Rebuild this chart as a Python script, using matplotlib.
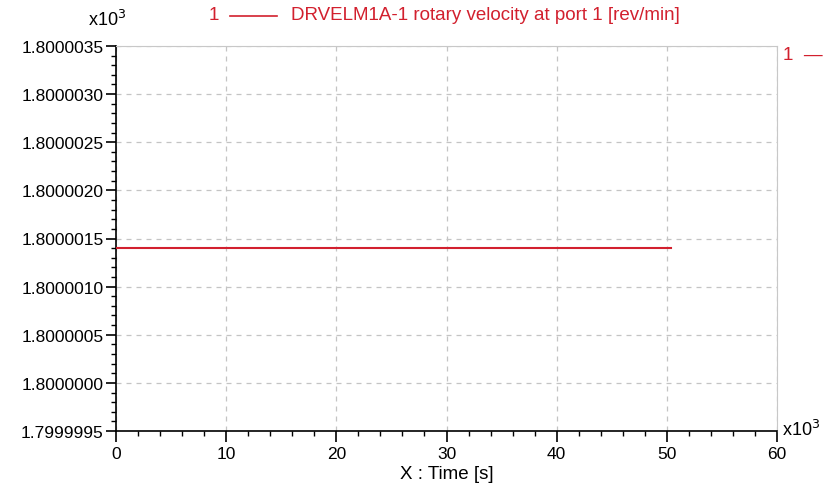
import matplotlib
matplotlib.use('Agg')
import matplotlib.pyplot as plt
import matplotlib.ticker as ticker
from matplotlib.lines import Line2D

plt.rcParams['font.family'] = ['Liberation Sans', 'DejaVu Sans']

# data (displayed units, x10^3)
time_k = [0.0, 50.4]
velocity_k = [1.8000014, 1.8000014]
series_label = 'DRVELM1A-1 rotary velocity at port 1 [rev/min]'

x_ticks = [0, 10, 20, 30, 40, 50, 60]
y_ticks = [1.7999995, 1.8000000, 1.8000005, 1.8000010, 1.8000015,
           1.8000020, 1.8000025, 1.8000030, 1.8000035]

red = '#d2202e'

fig = plt.figure(figsize=(8.27, 5.02), dpi=100, facecolor='white')
ax = fig.add_axes([116 / 827, 70 / 502, 661 / 827, 385 / 502])

ax.plot(time_k, velocity_k, color=red, linewidth=1.5, zorder=3)

ax.set_xlim(0, 60)
ax.set_ylim(1.7999995, 1.8000035)
ax.set_xticks(x_ticks)
ax.set_yticks(y_ticks)
ax.yaxis.set_major_formatter(ticker.FormatStrFormatter('%.7f'))
ax.xaxis.set_minor_locator(ticker.AutoMinorLocator(5))
ax.yaxis.set_minor_locator(ticker.AutoMinorLocator(5))

ax.grid(True, which='major', color='#c4c4c4', linestyle=(0, (4, 4)), linewidth=0.9)

for side in ['top', 'right']:
    ax.spines[side].set_color('#c8c8c8')
for side in ['left', 'bottom']:
    ax.spines[side].set_color('black')
    ax.spines[side].set_linewidth(1.2)

ax.tick_params(which='major', direction='out', length=7, width=1.2, labelsize=12.5, pad=2)
ax.tick_params(which='minor', direction='out', length=3.5, width=1)
ax.tick_params(axis='x', which='major', length=8, pad=3)

ax.set_xlabel('X : Time [s]', fontsize=13.5, labelpad=3)

# multiplier labels
fig.text(88 / 827, 1 - 30 / 502, r'x10$^3$', fontsize=13, ha='left', va='bottom')
fig.text(782 / 827, 1 - 440 / 502, r'x10$^3$', fontsize=13, ha='left', va='bottom')

# legend-style header
fig.text(209 / 827, 1 - 16 / 502, '1', color=red,
         fontsize=13.5, ha='left', va='center')
fig.add_artist(Line2D([230 / 827, 277 / 827], [1 - 17 / 502, 1 - 17 / 502],
                      color=red, linewidth=1.2, transform=fig.transFigure))
fig.text(291 / 827, 1 - 16 / 502, series_label, color=red,
         fontsize=13.5, ha='left', va='center')
fig.text(783 / 827, 1 - 56 / 502, '1  \u2014', color=red, fontsize=13.5,
         ha='left', va='center')

fig.savefig('out.png', dpi=100, facecolor='white')
